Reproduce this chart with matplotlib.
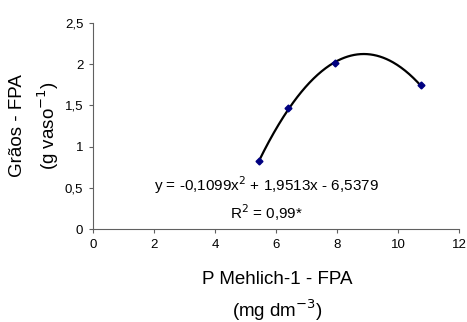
import numpy as np
import matplotlib
matplotlib.use('Agg')
import matplotlib.pyplot as plt

plt.rcParams['font.family'] = ['Liberation Sans', 'DejaVu Sans']

# pontos observados
p_mehlich = [5.45, 6.40, 7.93, 10.74]
graos = [0.82, 1.465, 2.01, 1.75]

# coeficientes da linha de tendencia (do grafico)
coef = [-0.1099, 1.9513, -6.5379]
eq_text = 'y = -0,1099x$^2$ + 1,9513x - 6,5379'
r2_text = 'R$^2$ = 0,99*'

xticks = [0, 2, 4, 6, 8, 10, 12]
yticks = [0, 0.5, 1, 1.5, 2, 2.5]
yticklabels = ['0', '0,5', '1', '1,5', '2', '2,5']

fig = plt.figure(figsize=(4.67, 3.22), dpi=100)
ax = fig.add_axes([93 / 467, 1 - 229 / 322, (459 - 93) / 467, (229 - 23) / 322])

xs = np.linspace(min(p_mehlich), max(p_mehlich), 200)
ax.plot(xs, np.polyval(coef, xs), color='black', lw=1.6)
ax.plot(p_mehlich, graos, linestyle='none', marker='D', ms=3.5, color='#000080')

ax.set_xlim(0, 12)
ax.set_ylim(0, 2.5)
ax.set_xticks(xticks)
ax.set_xticklabels([str(t) for t in xticks])
ax.set_yticks(yticks)
ax.set_yticklabels(yticklabels)
ax.tick_params(labelsize=9.5, length=3, width=0.8, color='#606060', pad=4)
ax.spines['top'].set_visible(False)
ax.spines['right'].set_visible(False)
for s in ['left', 'bottom']:
    ax.spines[s].set_color('#606060')

ax.text(5.67, 0.534, eq_text, ha='center', va='center', fontsize=11)
ax.text(5.7, 0.2, r2_text, ha='center', va='center', fontsize=11)

fig.text(277 / 467, 1 - 280 / 322, 'P Mehlich-1 - FPA', ha='center', va='center', fontsize=13.5)
fig.text(277 / 467, 1 - 310 / 322, '(mg dm$^{-3}$)', ha='center', va='center', fontsize=13.5)
fig.text(18 / 467, 1 - 126 / 322, 'Grãos - FPA', ha='center', va='center', rotation=90, fontsize=13.5)
fig.text(48 / 467, 1 - 126 / 322, '(g vaso$^{-1}$)', ha='center', va='center', rotation=90, fontsize=13.5)

fig.savefig('out.png', dpi=100)
